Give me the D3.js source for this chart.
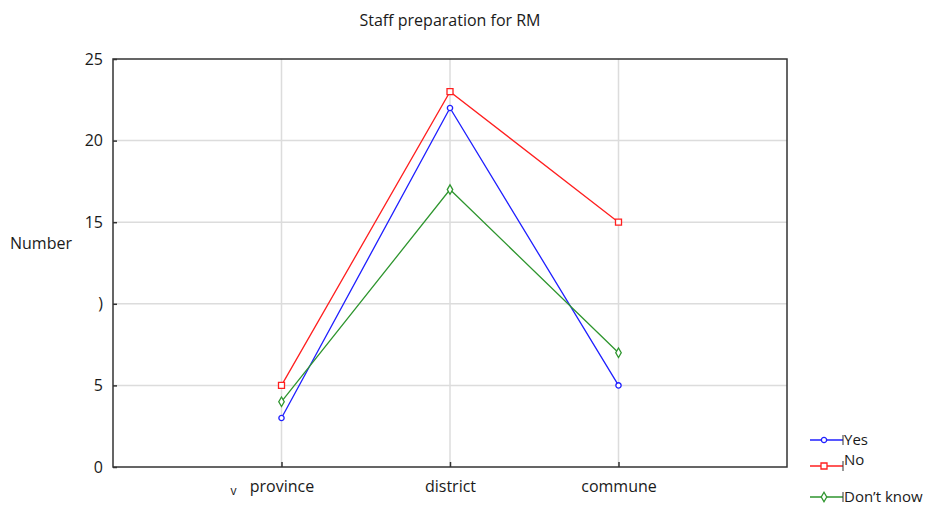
<!DOCTYPE html>
<html>
<head>
<meta charset="utf-8">
<script src="https://cdn.jsdelivr.net/npm/d3@7"></script>
<style>
  body { margin: 0; background: #fff; }
  text { font-family: "Open Sans", sans-serif; fill: #1a1a1a; }
</style>
</head>
<body>
<div id="chart"></div>
<script>
var categories = ["province", "district", "commune"]
var yesValues = [3, 22, 5]
var noValues = [5, 23, 15]
var dontKnowValues = [4, 17, 7]
var seriesNames = ["Yes", "No", "Don\u2019t know"]
var yTicks = [0, 5, 10, 15, 20, 25]
var yTickLabels = ["0", "5", ")", "15", "20", "25"]

var series = [
  { name: seriesNames[0], values: yesValues, color: "#1f1fff", marker: "circle" },
  { name: seriesNames[1], values: noValues, color: "#ff1f1f", marker: "square" },
  { name: seriesNames[2], values: dontKnowValues, color: "#2e952e", marker: "diamond" }
]

var W = 932, H = 505
var margin = { top: 59, left: 113, right: 145, bottom: 38 }
var width = W - margin.left - margin.right,
    height = H - margin.top - margin.bottom

var svg = d3.select("#chart").append("svg")
    .attr("width", W)
    .attr("height", H)

var g = svg.append("g")
    .attr("transform", "translate(" + margin.left + "," + margin.top + ")")

// categories sit at 1..3 out of a 0..4 range (empty slots at each end)
var xScale = d3.scalePoint()
    .domain(["_l"].concat(categories).concat(["_r"]))
    .range([0, width])

var yScale = d3.scaleLinear()
    .domain([0, 25])
    .range([height, 0])

// grid
g.selectAll(".hgrid")
    .data(yTicks.slice(1, -1))
    .enter().append("line")
    .attr("x1", 0).attr("x2", width)
    .attr("y1", function(d) { return yScale(d) })
    .attr("y2", function(d) { return yScale(d) })
    .attr("stroke", "#dcdcdc").attr("stroke-width", 1.5)

g.selectAll(".vgrid")
    .data(categories)
    .enter().append("line")
    .attr("x1", function(d) { return xScale(d) })
    .attr("x2", function(d) { return xScale(d) })
    .attr("y1", 0).attr("y2", height)
    .attr("stroke", "#dcdcdc").attr("stroke-width", 1.5)

// frame
g.append("rect")
    .attr("width", width).attr("height", height)
    .attr("fill", "none").attr("stroke", "#333").attr("stroke-width", 1.5)

// axes with inward ticks
var yAxis = d3.axisLeft(yScale)
    .tickValues(yTicks)
    .tickSizeInner(-4).tickSizeOuter(0)
    .tickPadding(10)
    .tickFormat(function(d, i) { return yTickLabels[i] })
var yG = g.append("g").call(yAxis)
yG.select(".domain").remove()
yG.selectAll("line").attr("stroke", "#333").attr("stroke-width", 1.5)
yG.selectAll("text").attr("font-size", "16px").attr("fill", "#1a1a1a")
    .style("font-family", "Open Sans, sans-serif")

var xAxis = d3.axisBottom(xScale)
    .tickValues(categories)
    .tickSizeInner(-5).tickSizeOuter(0)
    .tickPadding(14)
var xG = g.append("g").attr("transform", "translate(0," + height + ")").call(xAxis)
xG.select(".domain").remove()
xG.selectAll("line").attr("stroke", "#333").attr("stroke-width", 1.5)
xG.selectAll("text").attr("font-size", "16px").attr("fill", "#1a1a1a")
    .style("font-family", "Open Sans, sans-serif")

// stray clipped label
g.append("text")
    .text("v")
    .attr("x", xScale("province") - 51)
    .attr("y", height + 28)
    .attr("font-size", "12px")

// lines
var line = d3.line()
    .x(function(d, i) { return xScale(categories[i]) })
    .y(function(d) { return yScale(d) })

var symbolFor = {
  circle: d3.symbol().type(d3.symbolCircle).size(22),
  square: d3.symbol().type(d3.symbolSquare).size(36),
  diamond: d3.symbol().type(d3.symbolDiamond).size(26)
}

series.forEach(function(s) {
  g.append("path")
      .datum(s.values)
      .attr("d", line)
      .attr("fill", "none")
      .attr("stroke", s.color)
      .attr("stroke-width", 1.3)

  g.selectAll(".pt-" + s.marker)
      .data(s.values)
      .enter().append("path")
      .attr("d", symbolFor[s.marker])
      .attr("transform", function(d, i) {
        return "translate(" + xScale(categories[i]) + "," + yScale(d) + ")"
      })
      .attr("fill", "white")
      .attr("stroke", s.color)
      .attr("stroke-width", 1.3)
})

// legend
var legend = svg.append("g").attr("transform", "translate(810,440)")
var legendY = [0, 26, 57]
series.forEach(function(s, i) {
  var row = legend.append("g").attr("transform", "translate(0," + legendY[i] + ")")
  row.append("line")
      .attr("x1", 0).attr("x2", 33)
      .attr("stroke", s.color).attr("stroke-width", 1.3)
  row.append("path")
      .attr("d", symbolFor[s.marker])
      .attr("transform", "translate(14,0)")
      .attr("fill", "white").attr("stroke", s.color).attr("stroke-width", 1.3)
  row.append("line")
      .attr("x1", 33).attr("x2", 33).attr("y1", -5).attr("y2", 5)
      .attr("stroke", "#333").attr("stroke-width", 1)
  row.append("text")
      .text(s.name)
      .attr("x", 34)
      .attr("y", i === 1 ? -1 : 5)
      .attr("font-size", "15px")
})

// title and y label
svg.append("text")
    .text("Staff preparation for RM")
    .attr("x", margin.left + xScale("district"))
    .attr("y", 26)
    .attr("text-anchor", "middle")
    .attr("font-size", "16px")

svg.append("text")
    .text("Number")
    .attr("x", 10)
    .attr("y", 249)
    .attr("font-size", "16px")
</script>
</body>
</html>
